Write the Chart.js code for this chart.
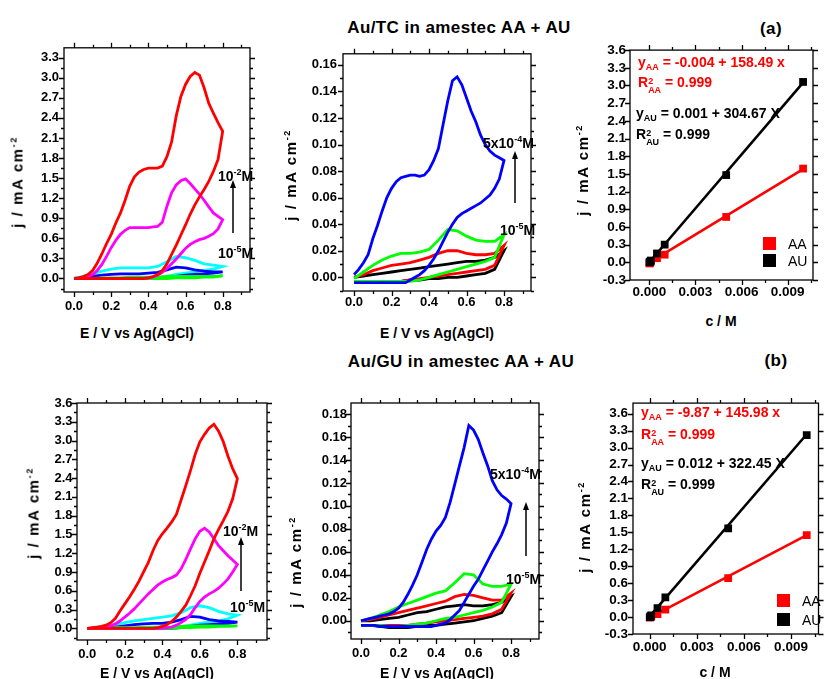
<!DOCTYPE html>
<html>
<head>
<meta charset="utf-8">
<script src="https://cdn.jsdelivr.net/npm/chart.js@4.4.1/dist/chart.umd.min.js"></script>
<style>
  html, body { margin: 0; background: #fff; }
  #page { position: relative; width: 824px; height: 679px; overflow: hidden;
          font-family: "Liberation Sans", Arial, sans-serif; font-weight: bold; color: #000; }
  canvas { position: absolute; }
  .t { position: absolute; white-space: nowrap; font-size: 14px; line-height: 1; }
  .c { transform: translate(-50%, -50%); }
  .l { transform: translateY(-50%); }
  .v { transform: translate(-50%, -50%) rotate(-90deg); font-size: 15px; letter-spacing: 1.6px; }
  .title { font-size: 17px; letter-spacing: 0.4px; }
  sup { font-size: 9px; vertical-align: 6px; line-height: 0; }
  sub { font-size: 9px; vertical-align: -3px; line-height: 0; }
  .stk { display: inline-block; vertical-align: -6px; font-size: 9px; line-height: 9px; text-align: left; }
  .red { color: #ff0000; }
  .leg { font-weight: normal; font-size: 14px; }
  .sq { position: absolute; width: 13px; height: 13px; }
</style>
</head>
<body>
<div id="page">
  <div class="t title c" style="left:459px; top:27px">Au/TC in amestec AA + AU</div>
  <div class="t title c" style="left:771px; top:28px">(a)</div>
  <div class="t title c" style="left:461px; top:361px">Au/GU in amestec AA + AU</div>
  <div class="t title c" style="left:776px; top:360px">(b)</div>
</div>
<script>
// potential grids (V vs Ag/AgCl), forward sweep; reverse sweep reads them backwards
const potFine = [0, 0.025, 0.05, 0.075, 0.1, 0.125, 0.15, 0.175, 0.2, 0.225, 0.25, 0.275, 0.3, 0.325, 0.35, 0.375, 0.4,
  0.425, 0.45, 0.475, 0.5, 0.525, 0.55, 0.575, 0.6, 0.625, 0.65, 0.675, 0.7, 0.725, 0.75, 0.775, 0.8];
const potCoarse = [0, 0.05, 0.1, 0.15, 0.2, 0.25, 0.3, 0.35, 0.4, 0.45, 0.5, 0.55, 0.6, 0.65, 0.7, 0.75, 0.8];

// Au/TC, 10^-2 .. 10^-4 M (mA cm^-2)
const tcRedFwd = [0.0, 0.01, 0.03, 0.06, 0.12, 0.23, 0.37, 0.52, 0.66, 0.83, 0.98, 1.17, 1.38, 1.52, 1.59, 1.63, 1.65,
  1.65, 1.65, 1.68, 1.82, 2.04, 2.43, 2.72, 2.9, 3.02, 3.08, 3.04, 2.85, 2.62, 2.47, 2.33, 2.2];
const tcRedRev = [2.2, 1.78, 1.6, 1.45, 1.33, 1.22, 1.1, 0.96, 0.8, 0.65, 0.5, 0.36, 0.22, 0.12, 0.06, 0.03, 0.01,
  0.0, 0.0, 0.0, 0.0, 0.0, 0.0, 0.0, 0.0, 0.0, 0.0, 0.0, 0.0, 0.0, 0.0, 0.0, 0.0];
const tcMagFwd = [0.0, 0.0, 0.01, 0.03, 0.06, 0.12, 0.21, 0.33, 0.46, 0.57, 0.66, 0.72, 0.76, 0.76, 0.76, 0.76, 0.76,
  0.77, 0.78, 0.84, 1.08, 1.28, 1.4, 1.46, 1.49, 1.42, 1.34, 1.26, 1.17, 1.07, 0.98, 0.93, 0.88];
const tcMagRev = [0.88, 0.74, 0.67, 0.63, 0.6, 0.58, 0.55, 0.51, 0.45, 0.37, 0.29, 0.22, 0.15, 0.09, 0.05, 0.02, 0.01,
  0.0, 0.0, 0.0, 0.0, 0.0, 0.0, 0.0, 0.0, 0.0, 0.0, 0.0, 0.0, 0.0, 0.0, 0.0, 0.0];
const tcCyanFwd = [0.0, 0.03, 0.07, 0.11, 0.14, 0.16, 0.16, 0.16, 0.16, 0.18, 0.25, 0.33, 0.31, 0.27, 0.22, 0.2, 0.18];
const tcCyanRev = [0.18, 0.14, 0.12, 0.1, 0.08, 0.06, 0.03, 0.01, 0.0, 0.0, 0.0, 0.0, 0.0, 0.0, 0.0, 0.0, 0.0];
const tcBlueFwd = [0.0, 0.01, 0.03, 0.05, 0.06, 0.07, 0.07, 0.07, 0.08, 0.09, 0.13, 0.17, 0.16, 0.13, 0.11, 0.1, 0.1];
const tcBlueRev = [0.1, 0.08, 0.07, 0.06, 0.05, 0.03, 0.01, 0.0, 0.0, 0.0, 0.0, 0.0, 0.0, 0.0, 0.0, 0.0, 0.0];
const tcGreenFwd = [0.0, 0.0, 0.0, 0.01, 0.01, 0.01, 0.02, 0.02, 0.02, 0.02, 0.03, 0.03, 0.03, 0.03, 0.03, 0.03, 0.04];
const tcGreenRev = [0.04, 0.02, 0.02, 0.01, 0.01, 0.01, 0.0, 0.0, 0.0, 0.0, 0.0, 0.0, 0.0, 0.0, 0.0, 0.0, 0.0];

// Au/TC, 5x10^-4 .. 10^-5 M
const tcLowBlueFwd = [0.002, 0.006, 0.011, 0.017, 0.029, 0.039, 0.05, 0.06, 0.067, 0.072, 0.075, 0.076, 0.077, 0.077,
  0.076, 0.077, 0.081, 0.088, 0.097, 0.115, 0.133, 0.148, 0.151, 0.145, 0.135, 0.125, 0.117, 0.107, 0.1, 0.095, 0.092,
  0.09, 0.088];
const tcLowBlueRev = [0.088, 0.074, 0.067, 0.062, 0.059, 0.056, 0.054, 0.052, 0.05, 0.048, 0.045, 0.04, 0.034, 0.027,
  0.02, 0.014, 0.009, 0.005, 0.002, 0.0, -0.002, -0.004, -0.004, -0.004, -0.004, -0.004, -0.004, -0.004, -0.004,
  -0.004, -0.004, -0.004, -0.004];
const tcLowGreenFwd = [-0.001, 0.004, 0.009, 0.013, 0.016, 0.018, 0.018, 0.019, 0.021, 0.028, 0.036, 0.035, 0.031, 0.028, 0.027, 0.027, 0.032];
const tcLowGreenRev = [0.032, 0.015, 0.012, 0.01, 0.008, 0.006, 0.004, 0.002, 0.0, -0.002, -0.003, -0.003, -0.003, -0.003, -0.003, -0.003, -0.003];
const tcLowRedFwd = [0.0, 0.002, 0.005, 0.007, 0.009, 0.01, 0.011, 0.013, 0.015, 0.018, 0.02, 0.02, 0.018, 0.017, 0.017, 0.018, 0.024];
const tcLowRedRev = [0.024, 0.009, 0.006, 0.005, 0.004, 0.003, 0.002, 0.001, 0.0, -0.001, -0.002, -0.003, -0.003, -0.003, -0.003, -0.003, -0.003];
const tcLowBlackFwd = [0.0, 0.001, 0.002, 0.003, 0.004, 0.005, 0.006, 0.007, 0.008, 0.009, 0.01, 0.011, 0.012, 0.012, 0.013, 0.015, 0.02];
const tcLowBlackRev = [0.02, 0.006, 0.003, 0.002, 0.001, 0.0, 0.0, -0.001, -0.001, -0.002, -0.002, -0.003, -0.003, -0.003, -0.003, -0.003, -0.003];

// Au/GU, 10^-2 .. 10^-4 M
const guRedFwd = [0.0, 0.01, 0.02, 0.03, 0.05, 0.09, 0.16, 0.28, 0.39, 0.5, 0.62, 0.75, 0.9, 1.05, 1.24, 1.4, 1.51,
  1.6, 1.7, 1.82, 2.05, 2.28, 2.52, 2.78, 2.98, 3.1, 3.2, 3.26, 3.15, 2.98, 2.75, 2.55, 2.39];
const guRedRev = [2.39, 2.07, 1.87, 1.72, 1.58, 1.43, 1.24, 1.06, 0.88, 0.68, 0.52, 0.37, 0.27, 0.18, 0.11, 0.06, 0.03,
  0.01, 0.0, 0.0, 0.0, 0.0, 0.0, 0.0, 0.0, 0.0, 0.0, 0.0, 0.0, 0.0, 0.0, 0.0, 0.0];
const guMagFwd = [0.0, 0.0, 0.01, 0.01, 0.02, 0.04, 0.07, 0.12, 0.18, 0.24, 0.31, 0.39, 0.47, 0.55, 0.62, 0.69, 0.74,
  0.78, 0.81, 0.85, 0.95, 1.1, 1.27, 1.43, 1.55, 1.6, 1.54, 1.43, 1.32, 1.24, 1.16, 1.09, 1.02];
const guMagRev = [1.02, 0.9, 0.79, 0.71, 0.64, 0.59, 0.55, 0.5, 0.43, 0.33, 0.22, 0.14, 0.09, 0.05, 0.02, 0.01, 0.0,
  0.0, 0.0, 0.0, 0.0, 0.0, 0.0, 0.0, 0.0, 0.0, 0.0, 0.0, 0.0, 0.0, 0.0, 0.0, 0.0];
const guCyanFwd = [0.0, 0.01, 0.03, 0.06, 0.09, 0.12, 0.14, 0.16, 0.18, 0.2, 0.25, 0.33, 0.36, 0.33, 0.27, 0.23, 0.21];
const guCyanRev = [0.21, 0.15, 0.12, 0.1, 0.08, 0.05, 0.02, 0.01, 0.0, 0.0, 0.0, 0.0, 0.0, 0.0, 0.0, 0.0, 0.0];
const guBlueFwd = [0.0, 0.0, 0.01, 0.02, 0.04, 0.06, 0.07, 0.08, 0.08, 0.1, 0.14, 0.19, 0.18, 0.14, 0.12, 0.11, 0.1];
const guBlueRev = [0.1, 0.08, 0.07, 0.06, 0.05, 0.03, 0.01, 0.0, 0.0, 0.0, 0.0, 0.0, 0.0, 0.0, 0.0, 0.0, 0.0];
const guGreenFwd = [0.0, 0.0, 0.0, 0.01, 0.01, 0.01, 0.02, 0.02, 0.02, 0.02, 0.03, 0.04, 0.04, 0.04, 0.04, 0.04, 0.04];
const guGreenRev = [0.04, 0.03, 0.03, 0.02, 0.02, 0.01, 0.01, 0.0, 0.0, 0.0, 0.0, 0.0, 0.0, 0.0, 0.0, 0.0, 0.0];

// Au/GU, 5x10^-4 .. 10^-5 M
const guLowBlueFwd = [0.0, 0.001, 0.002, 0.003, 0.004, 0.005, 0.006, 0.008, 0.011, 0.016, 0.023, 0.031, 0.04, 0.051,
  0.062, 0.071, 0.078, 0.083, 0.09, 0.103, 0.119, 0.135, 0.151, 0.17, 0.166, 0.158, 0.146, 0.135, 0.122, 0.114, 0.109,
  0.106, 0.102];
const guLowBlueRev = [0.102, 0.085, 0.075, 0.067, 0.06, 0.052, 0.044, 0.036, 0.03, 0.023, 0.016, 0.009, 0.005, 0.001,
  -0.002, -0.003, -0.004, -0.005, -0.005, -0.005, -0.005, -0.005, -0.005, -0.005, -0.005, -0.005, -0.005, -0.005,
  -0.005, -0.004, -0.004, -0.004, -0.004];
const guLowGreenFwd = [0.0, 0.002, 0.005, 0.008, 0.012, 0.015, 0.018, 0.021, 0.024, 0.026, 0.033, 0.041, 0.04, 0.032, 0.03, 0.03, 0.032];
const guLowGreenRev = [0.032, 0.016, 0.012, 0.009, 0.007, 0.005, 0.003, 0.002, 0.0, -0.002, -0.003, -0.004, -0.005, -0.005, -0.004, -0.004, -0.004];
const guLowRedFwd = [0.0, 0.001, 0.003, 0.005, 0.007, 0.009, 0.011, 0.013, 0.015, 0.017, 0.021, 0.023, 0.022, 0.02, 0.018, 0.018, 0.024];
const guLowRedRev = [0.024, 0.01, 0.006, 0.004, 0.003, 0.002, 0.001, 0.0, -0.001, -0.002, -0.003, -0.004, -0.004, -0.004, -0.004, -0.004, -0.004];
const guLowBlackFwd = [0.0, 0.0, 0.001, 0.002, 0.003, 0.005, 0.007, 0.008, 0.01, 0.012, 0.013, 0.014, 0.013, 0.013, 0.014, 0.016, 0.021];
const guLowBlackRev = [0.021, 0.007, 0.004, 0.002, 0.0, -0.001, -0.002, -0.003, -0.004, -0.004, -0.005, -0.006, -0.006, -0.006, -0.005, -0.004, -0.004];

// calibration: peak current vs concentration
const concM = [0.00001, 0.00005, 0.0001, 0.0005, 0.001, 0.005, 0.01];
const tcPeakAA = [-0.02, -0.01, 0.01, 0.07, 0.13, 0.77, 1.59];
const tcPeakAU = [0.0, 0.01, 0.03, 0.15, 0.3, 1.48, 3.06];
const guPeakAA = [-0.01, 0.0, 0.01, 0.05, 0.13, 0.69, 1.45];
const guPeakAU = [0.0, 0.01, 0.03, 0.16, 0.35, 1.57, 3.22];
const fitRange = [0, 0.01];
// [intercept, slope]
const tcFitAA = [-0.004, 158.49];
const tcFitAU = [0.001, 304.67];
const guFitAA = [-0.00987, 145.98]; // intercept printed in 10^-3 units on the plot
const guFitAU = [0.012, 322.45];

// tick labels
const potTicks = [0, 0.2, 0.4, 0.6, 0.8];
const tcHighTicks = [0, 0.3, 0.6, 0.9, 1.2, 1.5, 1.8, 2.1, 2.4, 2.7, 3.0, 3.3];
const tcLowTicks = [0, 0.02, 0.04, 0.06, 0.08, 0.1, 0.12, 0.14, 0.16];
const guHighTicks = [0, 0.3, 0.6, 0.9, 1.2, 1.5, 1.8, 2.1, 2.4, 2.7, 3.0, 3.3, 3.6];
const guLowTicks = [0, 0.02, 0.04, 0.06, 0.08, 0.1, 0.12, 0.14, 0.16, 0.18];
const concTicks = [0, 0.003, 0.006, 0.009];
const calTicks = [-0.3, 0, 0.3, 0.6, 0.9, 1.2, 1.5, 1.8, 2.1, 2.4, 2.7, 3.0, 3.3, 3.6];

const RED = '#ff0000', MAG = '#ff00ff', CYAN = '#00ffff', BLUE = '#0000ff', GREEN = '#00ff00', BLACK = '#000000';
const FONT = '"Liberation Sans", Arial, sans-serif';

function cv(pot, fwd, rev, color) {
  const back = pot.slice().reverse();
  const pts = pot.map((e, i) => ({ x: e, y: fwd[i] }))
    .concat(back.map((e, i) => ({ x: e, y: rev[i] })));
  return { data: pts, showLine: true, borderColor: color, borderWidth: 2.8, pointRadius: 0 };
}

function points(conc, vals, color) {
  return {
    data: conc.map((c, i) => ({ x: c, y: vals[i] })), showLine: false,
    pointStyle: 'rect', pointRadius: 5.5, backgroundColor: color, borderColor: color, borderWidth: 0
  };
}

function fit(range, f, color) {
  return {
    data: range.map(c => ({ x: c, y: f[0] + f[1] * c })), showLine: true,
    borderColor: color, borderWidth: 2.6, pointRadius: 0
  };
}

// half-step minor ticks across the whole axis range
function minorOf(major, scale) {
  const step = major[1] - major[0], out = [];
  for (let v = major[0] - step / 2; v >= scale.min; v -= step) out.push(v);
  for (let v = major[0] + step / 2; v <= scale.max; v += step) out.push(v);
  return out;
}

// closed Origin-style frame with outward ticks on all four sides
const framePlugin = {
  id: 'frame',
  afterDraw(chart) {
    const { ctx, chartArea: a, scales: { x, y } } = chart;
    const o = chart.options.plugins.frame;
    ctx.save();
    ctx.strokeStyle = '#000';
    ctx.lineWidth = 1.3;
    ctx.strokeRect(a.left, a.top, a.right - a.left, a.bottom - a.top);
    ctx.beginPath();
    const xm = o.xMajor.map(v => [v, 5]).concat(minorOf(o.xMajor, x).map(v => [v, 3]));
    xm.forEach(([v, len]) => {
      const px = Math.round(x.getPixelForValue(v)) + 0.5;
      if (px < a.left - 1 || px > a.right + 1) return;
      ctx.moveTo(px, a.bottom); ctx.lineTo(px, a.bottom + len);
      ctx.moveTo(px, a.top); ctx.lineTo(px, a.top - len);
    });
    let ym = o.yMajor.map(v => [v, 5]);
    if (o.yMinor) ym = ym.concat(minorOf(o.yMajor, y).map(v => [v, 3]));
    ym.forEach(([v, len]) => {
      const py = Math.round(y.getPixelForValue(v)) + 0.5;
      if (py < a.top - 1 || py > a.bottom + 1) return;
      ctx.moveTo(a.left, py); ctx.lineTo(a.left - len, py);
      ctx.moveTo(a.right, py); ctx.lineTo(a.right + len, py);
    });
    ctx.stroke();
    ctx.restore();
  }
};

const panels = [
  { canvas: [0, 35, 262, 285], area: [64, 45, 250, 292], x: [-0.054, 0.947], y: [-0.202, 3.448],
    xTicks: potTicks, yTicks: tcHighTicks, xDec: 1, yDec: 1, xPad: 7, yPad: 5, yMinor: true, size: 13,
    datasets: [cv(potFine, tcRedFwd, tcRedRev, RED), cv(potFine, tcMagFwd, tcMagRev, MAG),
      cv(potCoarse, tcGreenFwd, tcGreenRev, GREEN), cv(potCoarse, tcBlueFwd, tcBlueRev, BLUE),
      cv(potCoarse, tcCyanFwd, tcCyanRev, CYAN)] },
  { canvas: [280, 40, 262, 280], area: [343, 53, 531, 291], x: [-0.059, 0.944], y: [-0.0103, 0.1683],
    xTicks: potTicks, yTicks: tcLowTicks, xDec: 1, yDec: 2, xPad: 4, yPad: 6, yMinor: true, size: 13,
    datasets: [cv(potFine, tcLowBlueFwd, tcLowBlueRev, BLUE), cv(potCoarse, tcLowGreenFwd, tcLowGreenRev, GREEN),
      cv(potCoarse, tcLowRedFwd, tcLowRedRev, RED), cv(potCoarse, tcLowBlackFwd, tcLowBlackRev, BLACK)] },
  { canvas: [585, 38, 239, 262], area: [630, 48, 813, 280], x: [-0.001255, 0.010645], y: [-0.3, 3.6],
    xTicks: concTicks, yTicks: calTicks, xDec: 3, yDec: 1, xPad: 4, yPad: 4, yMinor: false, size: 13.5,
    datasets: [points(concM, tcPeakAU, BLACK), points(concM, tcPeakAA, RED),
      fit(fitRange, tcFitAU, BLACK), fit(fitRange, tcFitAA, RED)] },
  { canvas: [20, 390, 257, 280], area: [77, 403, 267, 640], x: [-0.055, 0.958], y: [-0.187, 3.6],
    xTicks: potTicks, yTicks: guHighTicks, xDec: 1, yDec: 1, xPad: 7, yPad: 4.5, yMinor: true, size: 13,
    datasets: [cv(potFine, guRedFwd, guRedRev, RED), cv(potFine, guMagFwd, guMagRev, MAG),
      cv(potCoarse, guGreenFwd, guGreenRev, GREEN), cv(potCoarse, guBlueFwd, guBlueRev, BLUE),
      cv(potCoarse, guCyanFwd, guCyanRev, CYAN)] },
  { canvas: [290, 390, 260, 280], area: [351, 403, 539, 639], x: [-0.0533, 0.949], y: [-0.0159, 0.1896],
    xTicks: potTicks, yTicks: guLowTicks, xDec: 1, yDec: 2, xPad: 7, yPad: 4, yMinor: true, size: 13,
    datasets: [cv(potFine, guLowBlueFwd, guLowBlueRev, BLUE), cv(potCoarse, guLowGreenFwd, guLowGreenRev, GREEN),
      cv(potCoarse, guLowRedFwd, guLowRedRev, RED), cv(potCoarse, guLowBlackFwd, guLowBlackRev, BLACK)] },
  { canvas: [590, 390, 234, 270], area: [633, 401, 822, 634], x: [-0.00106, 0.01075], y: [-0.3, 3.788],
    xTicks: concTicks, yTicks: calTicks, xDec: 3, yDec: 1, xPad: 5, yPad: 5, yMinor: false, size: 13.5,
    datasets: [points(concM, guPeakAU, BLACK), points(concM, guPeakAA, RED),
      fit(fitRange, guFitAU, BLACK), fit(fitRange, guFitAA, RED)] }
];

const page = document.getElementById('page');

function axis(range, ticks, dec, pad, size, fitFn) {
  return {
    type: 'linear', min: range[0], max: range[1],
    grid: { display: false, drawTicks: false }, border: { display: false },
    afterBuildTicks: s => { s.ticks = ticks.map(v => ({ value: v })); },
    afterFit: fitFn,
    ticks: { autoSkip: false, maxRotation: 0, padding: pad, color: '#000',
      font: { family: FONT, size: size, weight: 'bold' }, callback: v => v.toFixed(dec) }
  };
}

panels.forEach(p => {
  const [cx, cy, cw, ch] = p.canvas;
  const [L, T, R, B] = p.area;
  const el = document.createElement('canvas');
  el.width = cw; el.height = ch;
  el.style.left = cx + 'px'; el.style.top = cy + 'px';
  page.insertBefore(el, page.firstChild);
  new Chart(el, {
    type: 'scatter',
    data: { datasets: p.datasets },
    plugins: [framePlugin],
    options: {
      responsive: false, animation: false, events: [],
      layout: { padding: { left: 0, top: T - cy, right: cx + cw - R, bottom: 0 } },
      plugins: { legend: { display: false }, tooltip: { enabled: false },
        frame: { xMajor: p.xTicks, yMajor: p.yTicks, yMinor: p.yMinor } },
      scales: {
        x: axis(p.x, p.xTicks, p.xDec, p.xPad, p.size, s => { s.height = cy + ch - B; }),
        y: axis(p.y, p.yTicks, p.yDec, p.yPad, p.size, s => { s.width = L - cx; })
      }
    }
  });
});
</script>
<script>
// text layer: axis titles, concentration marks, fit equations, legends
const jTitle = 'j / mA cm<sup>-2</sup>';
const eTitle = 'E / V vs Ag(AgCl)';
const labels = [
  ['c', 137, 333, eTitle], ['c', 437, 333, eTitle], ['c', 157, 673, eTitle], ['c', 437, 673, eTitle],
  ['c', 721, 321, 'c / M'], ['c', 715, 672, 'c / M'],
  ['v', 17, 182, jTitle], ['v', 290, 175, jTitle], ['v', 582, 170, jTitle],
  ['v', 33, 513, jTitle], ['v', 295, 562, jTitle], ['v', 584, 527, jTitle],
  ['l', 218, 176, '10<sup>-2</sup>M'], ['l', 218, 253, '10<sup>-5</sup>M'],
  ['l', 483, 143, '5x10<sup>-4</sup>M'], ['l', 500, 230, '10<sup>-5</sup>M'],
  ['l', 223, 531, '10<sup>-2</sup>M'], ['l', 230, 607, '10<sup>-5</sup>M'],
  ['l', 490, 474, '5x10<sup>-4</sup>M'], ['l', 506, 579, '10<sup>-5</sup>M'],
  ['l red', 638, 62, 'y<sub>AA</sub> = -0.004 + 158.49 x'],
  ['l red', 638, 85, 'R<span class="stk">2<br>AA</span> = 0.999'],
  ['l', 636, 113, 'y<sub>AU</sub> = 0.001 + 304.67 X'],
  ['l', 636, 137, 'R<span class="stk">2<br>AU</span> = 0.999'],
  ['l red', 641, 412, 'y<sub>AA</sub> = -9.87 + 145.98 x'],
  ['l red', 641, 437, 'R<span class="stk">2<br>AA</span> = 0.999'],
  ['l', 641, 463, 'y<sub>AU</sub> = 0.012 + 322.45 X'],
  ['l', 641, 487, 'R<span class="stk">2<br>AU</span> = 0.999'],
  ['l leg', 788, 244, 'AA'], ['l leg', 788, 261, 'AU'],
  ['l leg', 802, 601, 'AA'], ['l leg', 802, 620, 'AU']
];
const pg = document.getElementById('page');
labels.forEach(([cls, x, y, html]) => {
  const d = document.createElement('div');
  d.className = 't ' + cls;
  d.style.left = x + 'px'; d.style.top = y + 'px';
  d.innerHTML = html;
  pg.appendChild(d);
});
[[763, 237, '#ff0000'], [763, 254, '#000'], [777, 594, '#ff0000'], [777, 613, '#000']].forEach(([x, y, c]) => {
  const s = document.createElement('div');
  s.className = 'sq';
  s.style.left = x + 'px'; s.style.top = y + 'px'; s.style.background = c;
  pg.appendChild(s);
});
// upward arrows next to the concentration marks
const svgNS = 'http://www.w3.org/2000/svg';
const svg = document.createElementNS(svgNS, 'svg');
svg.setAttribute('width', 824); svg.setAttribute('height', 679);
svg.style.position = 'absolute'; svg.style.left = '0'; svg.style.top = '0';
[[233, 233, 180], [515, 203, 151], [241, 591, 537], [526, 556, 502]].forEach(([x, y0, y1]) => {
  const ln = document.createElementNS(svgNS, 'line');
  ln.setAttribute('x1', x); ln.setAttribute('x2', x);
  ln.setAttribute('y1', y0); ln.setAttribute('y2', y1 + 6);
  ln.setAttribute('stroke', '#000'); ln.setAttribute('stroke-width', 1.5);
  const hd = document.createElementNS(svgNS, 'polygon');
  hd.setAttribute('points', `${x - 3},${y1 + 8} ${x + 3},${y1 + 8} ${x},${y1}`);
  hd.setAttribute('fill', '#000');
  svg.appendChild(ln); svg.appendChild(hd);
});
pg.appendChild(svg);
</script>
</body>
</html>
